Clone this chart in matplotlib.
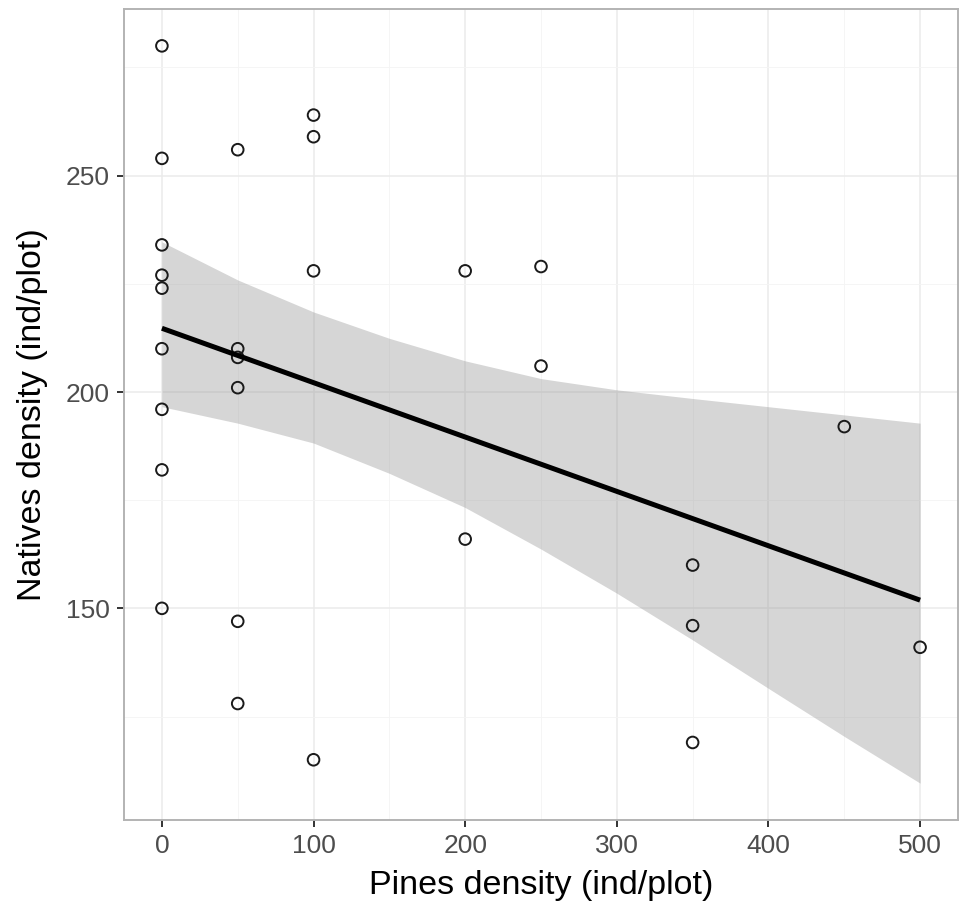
import numpy as np
import matplotlib
matplotlib.use("Agg")
import matplotlib.pyplot as plt

plt.rcParams['font.family'] = ['Liberation Sans', 'DejaVu Sans']

# pine density and native density per plot
pines = [0, 0, 0, 0, 0, 0, 0, 0, 0,
         50, 50, 50, 50, 50, 50,
         100, 100, 100, 100,
         200, 200, 250, 250,
         350, 350, 350, 450, 500]
natives = [280, 254, 234, 227, 224, 210, 196, 182, 150,
           256, 210, 208, 201, 147, 128,
           264, 259, 228, 115,
           228, 166, 229, 206,
           160, 146, 119, 192, 141]

# 95% confidence band of the linear fit
band_x = [0, 50, 100, 150, 200, 250, 300, 350, 400, 450, 500]
band_hi = [234.7, 225.9, 218.5, 212.4, 207.2, 203.1, 200.5, 198.5, 196.6, 194.7, 192.8]
band_lo = [196.6, 192.8, 188.2, 181.2, 173.3, 163.7, 153.5, 142.7, 131.5, 120.4, 109.6]

x = np.array(pines, dtype=float)
y = np.array(natives, dtype=float)

# least squares line
slope, intercept = np.polyfit(x, y, 1)
xs = np.array([x.min(), x.max()])
fit = intercept + slope * xs

fig = plt.figure(figsize=(9.6, 9.21), dpi=100)
ax = fig.add_axes([124 / 960, 1 - 820 / 921, (958 - 124) / 960, (820 - 9) / 921])

# ggplot-style axis expansion
xr = x.max() - x.min()
ax.set_xlim(x.min() - 0.05 * xr, x.max() + 0.05 * xr)
ymin = min(y.min(), min(band_lo))
ymax = max(y.max(), max(band_hi))
yr = ymax - ymin
ax.set_ylim(ymin - 0.05 * yr, ymax + 0.05 * yr)

ax.set_xticks([0, 100, 200, 300, 400, 500])
ax.set_xticks([50, 150, 250, 350, 450], minor=True)
ax.set_yticks([150, 200, 250])
ax.set_yticks([125, 175, 225, 275], minor=True)
ax.grid(True, which='major', color='#ebebeb', linewidth=1.1)
ax.grid(True, which='minor', color='#f4f4f4', linewidth=0.6)
ax.set_axisbelow(True)

ax.fill_between(band_x, band_lo, band_hi, color='#999999', alpha=0.4, linewidth=0, zorder=2)
ax.scatter(x, y, s=70, facecolors='none', edgecolors='#1a1a1a', linewidths=1.4, zorder=3)
ax.plot(xs, fit, color='black', linewidth=3.6, zorder=4, solid_capstyle='butt')

for sp in ax.spines.values():
    sp.set_color('#b3b3b3')
    sp.set_linewidth(1.4)

ax.tick_params(which='major', length=5, width=1.4, color='#333333',
               labelsize=19, labelcolor='#4d4d4d', pad=5)
ax.tick_params(which='minor', length=0)

ax.set_xlabel('Pines density (ind/plot)', fontsize=24.5, color='black', labelpad=9)
ax.set_ylabel('Natives density (ind/plot)', fontsize=24.5, color='black', labelpad=13)

fig.savefig('out.png', dpi=100)
